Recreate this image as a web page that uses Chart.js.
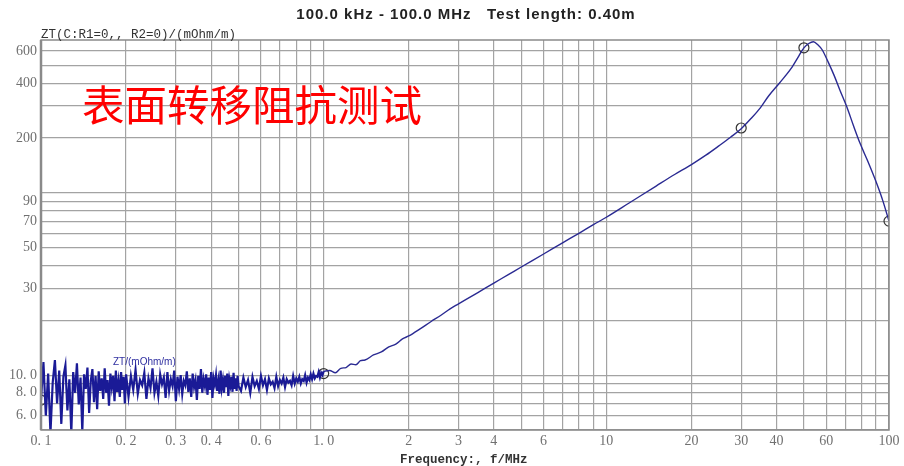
<!DOCTYPE html>
<html>
<head>
<meta charset="utf-8">
<script src="https://cdn.jsdelivr.net/npm/chart.js@4.4.0/dist/chart.umd.min.js"></script>
<style>
  html, body { margin: 0; padding: 0; background: #fff; }
  #wrap { width: 904px; height: 466px; }
</style>
</head>
<body>
<div id="wrap"><canvas id="chart"></canvas></div>
<script>
// Zona ruidosa 0.1 - 1.0 MHz
const noiseFreqs = [
  0.100, 0.102, 0.104, 0.106, 0.108, 0.110, 0.112, 0.114, 0.116, 0.118,
  0.120, 0.122, 0.124, 0.126, 0.128, 0.130, 0.132, 0.134, 0.136, 0.138,
  0.140, 0.142, 0.144, 0.146, 0.148, 0.150, 0.152, 0.154, 0.156, 0.158,
  0.160, 0.162, 0.164, 0.166, 0.168, 0.170, 0.172, 0.174, 0.176, 0.178,
  0.180, 0.182, 0.184, 0.186, 0.188, 0.190, 0.192, 0.194, 0.196, 0.198,
  0.200,
  0.204, 0.208, 0.212, 0.216, 0.220, 0.224, 0.228, 0.232, 0.236, 0.240,
  0.244, 0.248, 0.252, 0.256, 0.260, 0.264, 0.268, 0.272, 0.276, 0.280,
  0.284, 0.288, 0.292, 0.296, 0.300, 0.304, 0.308, 0.312, 0.316, 0.320,
  0.324, 0.328, 0.332, 0.336, 0.340, 0.344, 0.348, 0.352, 0.356, 0.360,
  0.364, 0.368, 0.372, 0.376, 0.380, 0.384, 0.388, 0.392, 0.396, 0.400,
  0.404, 0.408, 0.412, 0.416, 0.420, 0.424, 0.428, 0.432, 0.436, 0.440,
  0.444, 0.448, 0.452, 0.456, 0.460, 0.464, 0.468, 0.472, 0.476, 0.480,
  0.484, 0.488, 0.492, 0.496, 0.500,
  0.51, 0.52, 0.53, 0.54, 0.55, 0.56, 0.57, 0.58, 0.59, 0.60,
  0.61, 0.62, 0.63, 0.64, 0.65, 0.66, 0.67, 0.68, 0.69, 0.70,
  0.71, 0.72, 0.73, 0.74, 0.75, 0.76, 0.77, 0.78, 0.79, 0.80,
  0.81, 0.82, 0.83, 0.84, 0.85, 0.86, 0.87, 0.88, 0.89, 0.90,
  0.91, 0.92, 0.93, 0.94, 0.95, 0.96, 0.97, 0.98, 0.99, 1.00
];
const noiseZt = [
  7.3, 11.8, 6.0, 10.2, 4.8, 9.1, 12.1, 7.0, 10.6, 5.4,
  9.8, 11.3, 6.4, 9.5, 4.8, 10.4, 8.0, 11.6, 6.9, 9.7,
  4.9, 10.1, 8.4, 11.0, 6.2, 9.3, 10.8, 7.1, 9.9, 6.5,
  10.5, 8.2, 9.6, 7.4, 10.9, 8.0, 9.4, 6.8, 10.2, 8.6,
  9.9, 7.2, 10.6, 8.1, 9.3, 7.6, 10.4, 8.3, 9.8, 7.0,
  10.1,
  7.6, 9.9, 8.3, 10.7, 7.9, 9.4, 8.8, 10.3, 7.4, 9.6,
  8.5, 10.9, 8.0, 9.2, 7.7, 10.1, 8.9, 9.7, 7.5, 10.4,
  8.2, 9.5, 8.7, 10.6, 7.2, 9.8, 8.4, 10.0, 7.9, 9.3,
  8.8, 10.5, 8.1, 9.6, 7.6, 10.2, 8.6, 9.4, 7.3, 9.9,
  8.4, 10.8, 8.0, 9.5, 8.7, 10.1, 7.8, 9.7, 8.3, 10.4,
  7.5, 9.6, 8.9, 10.0, 8.2, 9.3, 7.9, 10.6, 8.5, 9.4,
  8.0, 9.9, 8.6, 10.2, 7.7, 9.5, 8.8, 9.8, 8.1, 10.3,
  8.4, 9.6, 8.2, 9.9, 8.7,
  8.2, 9.7, 8.6, 9.4, 8.0, 9.8, 8.7, 9.3, 8.4, 9.9,
  8.8, 9.5, 8.3, 9.6, 8.9, 9.2, 8.5, 9.8, 8.7, 9.4,
  9.0, 9.7, 8.6, 9.5, 9.1, 9.3, 8.8, 9.9, 9.0, 9.6,
  9.2, 9.8, 9.0, 9.5, 9.3, 10.0, 9.1, 9.7, 9.4, 10.1,
  9.5, 10.2, 9.6, 9.9, 9.8, 10.4, 9.7, 10.3, 10.0, 10.5
];

// Curva 1 - 100 MHz
const sweepFreqs = [
  1.0, 1.05, 1.1, 1.15, 1.2, 1.25, 1.3, 1.35, 1.4, 1.5, 1.6, 1.7, 1.8, 1.9, 2.0,
  2.2, 2.4, 2.6, 2.8, 3.0, 3.5, 4.0, 4.5, 5.0, 6.0, 7.0, 8.0, 9.0, 10,
  12, 15, 17.5, 20, 22.5, 25, 27.5, 30, 32.5, 35, 37.5, 41, 45, 48, 50,
  52, 54, 56, 58, 61, 64, 67, 71, 75, 79, 84, 90, 95, 100
];
const sweepZt = [
  10.5, 10.6, 10.3, 10.9, 11.0, 11.5, 11.4, 12.0, 12.1, 12.9, 13.4, 14.3, 14.8, 15.8, 16.4,
  18.0, 19.7, 21.3, 23.1, 24.6, 28.3, 32.0, 35.6, 39.2, 46.2, 53.2, 60.0, 66.9, 73.5,
  87.7, 109, 126.5, 143, 161, 181, 202, 225, 256, 292, 340, 401, 480, 565, 625,
  660, 675, 650, 610, 520, 440, 367, 295, 232, 187, 150, 115, 91, 70
];

// Marcadores
const markerFreqs = [0.1, 1.0, 30, 50, 100];
const markerZt = [7.3, 10.2, 227, 625, 70];

// Eixos
const xGridValues = [
  0.1, 0.2, 0.3, 0.4, 0.5, 0.6, 0.7, 0.8, 0.9,
  1, 2, 3, 4, 5, 6, 7, 8, 9,
  10, 20, 30, 40, 50, 60, 70, 80, 90, 100
];
const xTickLabels = {
  0.1: '0. 1', 0.2: '0. 2', 0.3: '0. 3', 0.4: '0. 4', 0.6: '0. 6', 1: '1. 0',
  2: '2', 3: '3', 4: '4', 6: '6', 10: '10', 20: '20', 30: '30', 40: '40', 60: '60', 100: '100'
};
const yGridValues = [5, 6, 7, 8, 9, 10, 20, 30, 40, 50, 60, 70, 80, 90, 100, 200, 300, 400, 500, 600];
const yTickLabels = {
  6: '6. 0', 8: '8. 0', 10: '10. 0', 30: '30', 50: '50', 70: '70', 90: '90',
  200: '200', 400: '400', 600: '600'
};

const toPoints = (xs, ys) => xs.map((x, i) => ({ x: x, y: ys[i] }));

const textPlugin = {
  id: 'texts',
  afterDraw(chart) {
    const ctx = chart.ctx;
    const area = chart.chartArea;
    ctx.save();
    // moldura
    ctx.strokeStyle = '#8a8a8a';
    ctx.lineWidth = 1.5;
    ctx.strokeRect(area.left, area.top, area.right - area.left, area.bottom - area.top);
    ctx.lineWidth = 2.5;
    ctx.beginPath();
    ctx.moveTo(area.left, area.top);
    ctx.lineTo(area.left, area.bottom);
    ctx.stroke();

    ctx.textBaseline = 'middle';
    ctx.fillStyle = '#222';
    ctx.font = 'bold 15px "Liberation Sans", Arial, sans-serif';
    ctx.textAlign = 'center';
    ctx.letterSpacing = '1px';
    ctx.fillText('100.0 kHz - 100.0 MHz   Test length: 0.40m', 466, 15);
    ctx.letterSpacing = '0px';

    ctx.textAlign = 'left';
    ctx.fillStyle = '#333';
    ctx.font = '12.5px "Liberation Mono", monospace';
    ctx.fillText('ZT(C:R1=0,, R2=0)/(mOhm/m)', 41, 35);

    ctx.font = 'bold 12.5px "Liberation Mono", monospace';
    ctx.fillText('Frequency:, f/MHz', 400, 460);

    ctx.fillStyle = '#ff0000';
    ctx.font = '42.5px "Noto Sans CJK SC", sans-serif';
    ctx.fillText('表面转移阻抗测试', 82, 105);

    ctx.fillStyle = '#2f2fa0';
    ctx.font = '10px "Liberation Sans", Arial, sans-serif';
    ctx.fillText('ZT/(mOhm/m)', 113, 362);
    ctx.restore();
  }
};

new Chart(document.getElementById('chart'), {
  type: 'line',
  data: {
    datasets: [
      {
        data: toPoints(noiseFreqs, noiseZt),
        borderColor: '#1a1a96',
        borderWidth: 2.2,
        pointRadius: 0,
        tension: 0
      },
      {
        data: toPoints(sweepFreqs, sweepZt),
        borderColor: '#2a2a92',
        borderWidth: 1.4,
        pointRadius: 0,
        cubicInterpolationMode: 'monotone'
      },
      {
        data: toPoints(markerFreqs, markerZt),
        showLine: false,
        pointRadius: 5,
        pointBorderWidth: 1.2,
        pointBorderColor: '#333',
        pointBackgroundColor: 'rgba(0,0,0,0)'
      }
    ]
  },
  options: {
    responsive: true,
    maintainAspectRatio: false,
    animation: false,
    layout: { padding: { top: 40, right: 15, left: 0, bottom: 0 } },
    plugins: {
      legend: { display: false },
      tooltip: { enabled: false }
    },
    scales: {
      x: {
        type: 'logarithmic',
        min: 0.1,
        max: 100,
        afterBuildTicks: (scale) => { scale.ticks = xGridValues.map(v => ({ value: v })); },
        afterFit: (scale) => { scale.height = 36; },
        grid: { color: '#a3a3a3', lineWidth: 1.2, drawTicks: false },
        border: { display: false },
        ticks: {
          autoSkip: false,
          maxRotation: 0,
          padding: 3,
          color: '#707070',
          font: { family: '"Liberation Serif", serif', size: 14 },
          callback: (value) => xTickLabels[value] || ''
        }
      },
      y: {
        type: 'logarithmic',
        min: 5,
        max: 690,
        afterBuildTicks: (scale) => { scale.ticks = yGridValues.map(v => ({ value: v })); },
        afterFit: (scale) => { scale.width = 41; },
        grid: { color: '#a3a3a3', lineWidth: 1.2, drawTicks: false },
        border: { display: false },
        ticks: {
          autoSkip: false,
          padding: 4,
          color: '#707070',
          font: { family: '"Liberation Serif", serif', size: 14 },
          callback: (value) => yTickLabels[value] || ''
        }
      }
    }
  },
  plugins: [textPlugin]
});
</script>
</body>
</html>
